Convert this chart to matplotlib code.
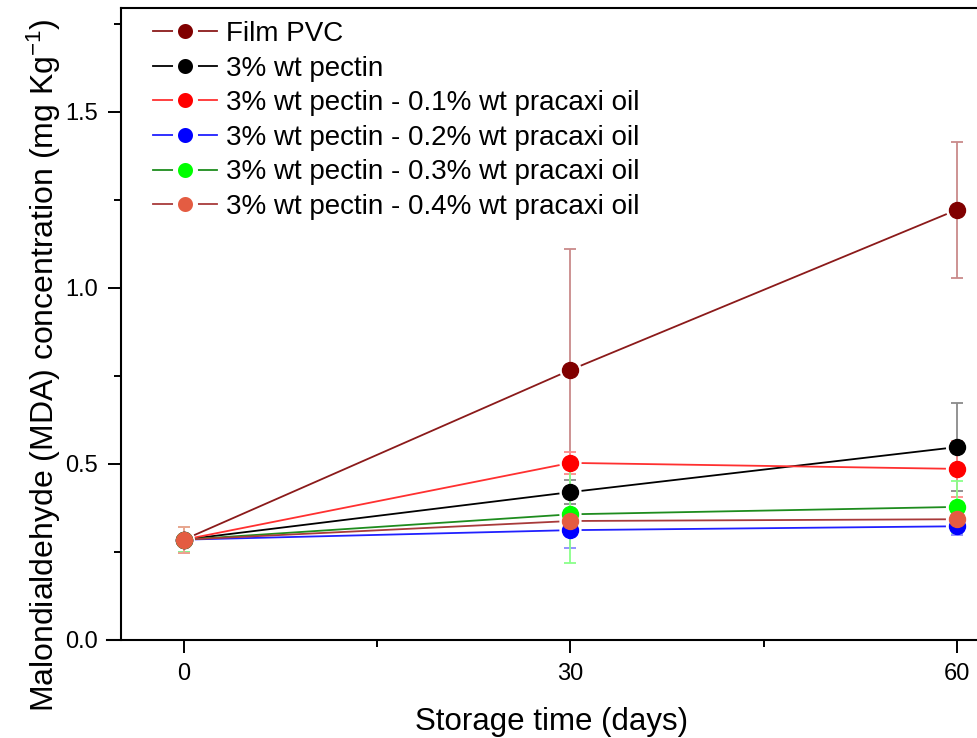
import numpy as np
import matplotlib
matplotlib.use("Agg")
import matplotlib.pyplot as plt
from matplotlib.lines import Line2D
from matplotlib.ticker import MultipleLocator, FormatStrFormatter

plt.rcParams["font.family"] = ["Liberation Sans", "DejaVu Sans"]
plt.rcParams["mathtext.default"] = "regular"

days = [0, 30, 60]
labels = [
    "Film PVC",
    "3% wt pectin",
    "3% wt pectin - 0.1% wt pracaxi oil",
    "3% wt pectin - 0.2% wt pracaxi oil",
    "3% wt pectin - 0.3% wt pracaxi oil",
    "3% wt pectin - 0.4% wt pracaxi oil",
]
# mean MDA values
pvc = [0.285, 0.767, 1.222]
pectin = [0.285, 0.420, 0.548]
pec_01 = [0.285, 0.503, 0.486]
pec_02 = [0.285, 0.312, 0.323]
pec_03 = [0.285, 0.357, 0.378]
pec_04 = [0.285, 0.338, 0.343]
# standard deviations
pvc_err = [0.037, 0.344, 0.193]
pectin_err = [0.035, 0.035, 0.125]
pec_01_err = [0.035, 0.032, 0.080]
pec_02_err = [0.035, 0.050, 0.025]
pec_03_err = [0.035, 0.137, 0.074]
pec_04_err = [0.037, 0.020, 0.020]

series = [pvc, pectin, pec_01, pec_02, pec_03, pec_04]
errors = [pvc_err, pectin_err, pec_01_err, pec_02_err, pec_03_err, pec_04_err]
line_colors = ["#8b1a1a", "#000000", "#ff3030", "#2020ff", "#1e8c1e", "#a83a3a"]
marker_colors = ["#800000", "#000000", "#ff0000", "#0000ff", "#00ff00", "#e45c42"]
err_colors = ["#c98a8a", "#8a8a8a", "#ff8a8a", "#8a8aff", "#8aff8a", "#f0a090"]

fig = plt.figure(figsize=(9.77, 7.38), dpi=100)
ax = fig.add_axes([107 / 977, 98 / 738, 870 / 977, 632 / 738])
ax.set_xlim(-5.97, 61.55)
ax.set_ylim(0, 1.795)


def trimmed(xs, ys, gap):
    # shorten each segment so the line stops short of the markers
    pts = ax.transData.transform(np.column_stack([xs, ys]))
    inv = ax.transData.inverted()
    segs = []
    for p, q in zip(pts[:-1], pts[1:]):
        d = q - p
        u = d / np.hypot(*d)
        segs.append(inv.transform([p + u * gap, q - u * gap]))
    return segs


for i, (vals, err) in enumerate(zip(series, errors)):
    ax.errorbar(days, vals, yerr=err, fmt="none", ecolor=err_colors[i],
                elinewidth=1.3, capsize=4.5, capthick=1.3, zorder=2)
    for seg in trimmed(days, vals, 12):
        ax.plot(seg[:, 0], seg[:, 1], color=line_colors[i], lw=1.3, zorder=3)
for i, vals in enumerate(series):
    ax.plot(days, vals, ls="none", marker="o", ms=11.5,
            mfc=marker_colors[i], mec=marker_colors[i], zorder=4 + i)

ax.xaxis.set_major_locator(MultipleLocator(30))
ax.xaxis.set_minor_locator(MultipleLocator(15))
ax.yaxis.set_major_locator(MultipleLocator(0.5))
ax.yaxis.set_minor_locator(MultipleLocator(0.25))
ax.yaxis.set_major_formatter(FormatStrFormatter("%.1f"))
ax.tick_params(which="major", direction="out", length=9.5, width=1.4, labelsize=17, pad=7)
ax.tick_params(which="minor", direction="out", length=5, width=1.4)

ax.spines["left"].set_position(("data", -4.9))
ax.spines["right"].set_visible(False)
ax.spines["top"].set_bounds(-4.9, 61.55)
for s in ["left", "top", "bottom"]:
    ax.spines[s].set_linewidth(1.5)

ax.set_xlabel("Storage time (days)", fontsize=22.5)
ax.xaxis.set_label_coords(0.511, -0.106)
ax.set_ylabel("Malondialdehyde (MDA) concentration (mg Kg$^{-1}$)", fontsize=23)
ax.yaxis.set_label_coords(-0.05, 0.435)

handles = [
    Line2D([], [], color=line_colors[i], lw=1.3, marker="o", ms=14.4,
           mfc=marker_colors[i], mec="white", mew=3.6)
    for i in range(len(labels))
]
ax.legend(handles, labels, loc="upper left", bbox_to_anchor=(0.032, 1.008),
          frameon=False, fontsize=20, handlelength=2.3, handletextpad=0.32,
          labelspacing=0.31, borderaxespad=0.25)

fig.savefig("out.png", dpi=100)
